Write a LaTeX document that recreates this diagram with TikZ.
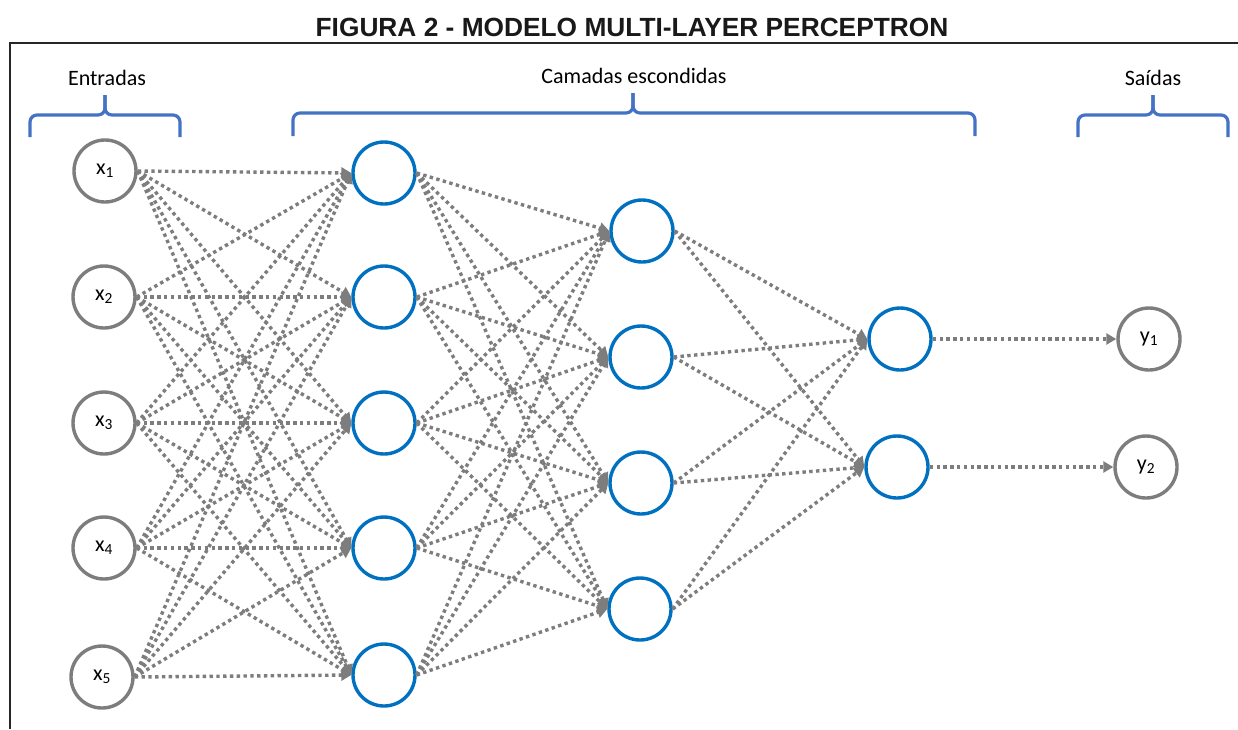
\documentclass[tikz,border=0pt]{standalone}
\usepackage{fontspec}
\setmainfont{Carlito}
\newfontfamily\titlefont{Liberation Sans}
\usetikzlibrary{arrows.meta}
\definecolor{nodeblue}{RGB}{0,112,192}
\definecolor{bracecol}{RGB}{68,114,196}
\definecolor{edgegray}{RGB}{125,125,125}
\begin{document}
\begin{tikzpicture}[x=1pt,y=-1pt,
  neuron/.style={circle, draw, line width=3.4pt, minimum size=62pt, inner sep=0pt, fill=white},
  io/.style={neuron, draw=edgegray, font=\fontsize{22}{26}\selectfont},
  hid/.style={neuron, draw=nodeblue},
  conn/.style={draw=edgegray, line width=3.4pt, dash pattern=on 3.4pt off 3.4pt, -{Triangle[length=10pt,width=11pt]}},
  bracket/.style={draw=bracecol, line width=3.2pt, rounded corners=7pt},
  grouplabel/.style={anchor=base, inner sep=0pt, font=\fontsize{22}{26}\selectfont},
  frame/.style={draw=black!85, line width=2.5pt}
]
\useasboundingbox (0,0) rectangle (1238,729);

% title and frame
\node[anchor=base, inner sep=0pt, font=\titlefont\bfseries\fontsize{26.3}{30}\selectfont, text=black!90] (title) at (632,36) {FIGURA 2 - MODELO MULTI-LAYER PERCEPTRON};
\draw[frame] (10,729) -- (10,43) -- (1238,43);

% group labels
\node[grouplabel] (lin) at (107,85) {Entradas};
\node[grouplabel] (lhid) at (634,83) {Camadas escondidas};
\node[grouplabel] (lout) at (1153,85) {Saídas};

% braces
\draw[bracket] (30,137) -- (30,115) -- (105,115) -- (105,95);
\draw[bracket] (180,137) -- (180,115) -- (105,115) -- (105,95);
\draw[bracket] (293,136) -- (293,113) -- (633,113) -- (633,93);
\draw[bracket] (975,136) -- (975,113) -- (633,113) -- (633,93);
\draw[bracket] (1078,137) -- (1078,115) -- (1153,115) -- (1153,95);
\draw[bracket] (1228,137) -- (1228,115) -- (1153,115) -- (1153,95);

% inputs
\node[io] (x1) at (105,171) {x\textsubscript{1}};
\node[io] (x2) at (104,297) {x\textsubscript{2}};
\node[io] (x3) at (104,423) {x\textsubscript{3}};
\node[io] (x4) at (104,548) {x\textsubscript{4}};
\node[io] (x5) at (102,677) {x\textsubscript{5}};

% hidden layer 1
\node[hid] (a1) at (384,173) {};
\node[hid] (a2) at (384,297) {};
\node[hid] (a3) at (384,423) {};
\node[hid] (a4) at (384,548) {};
\node[hid] (a5) at (384,675) {};

% hidden layer 2
\node[hid] (b1) at (642,231) {};
\node[hid] (b2) at (641,357) {};
\node[hid] (b3) at (641,483) {};
\node[hid] (b4) at (640,609) {};

% hidden layer 3
\node[hid] (c1) at (900,339) {};
\node[hid] (c2) at (897,467) {};

% outputs
\node[io] (y1) at (1149,339) {y\textsubscript{1}};
\node[io] (y2) at (1146,467) {y\textsubscript{2}};

% connections
\foreach \i in {1,...,5}
  \foreach \j in {1,...,5}
    \draw[conn] (x\i.east) -- (a\j.west);
\foreach \i in {1,...,5}
  \foreach \j in {1,...,4}
    \draw[conn] (a\i.east) -- (b\j.west);
\foreach \i in {1,...,4}
  \foreach \j in {1,2}
    \draw[conn] (b\i.east) -- (c\j.west);
\draw[conn] (c1.east) -- (y1.west);
\draw[conn] (c2.east) -- (y2.west);
\end{tikzpicture}
\end{document}
